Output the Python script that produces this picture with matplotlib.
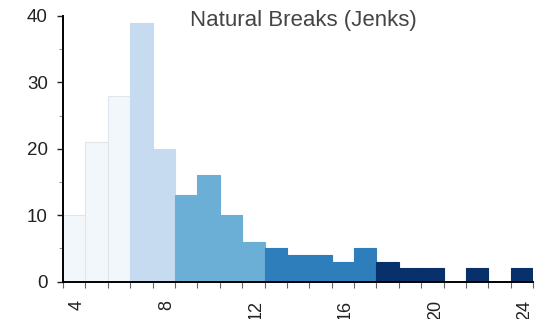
import numpy as np
import matplotlib
matplotlib.use('Agg')
import matplotlib.pyplot as plt

# histogram bins (left edges, width 1) and counts
bin_left = list(range(3, 24))
counts = [10, 21, 28, 39, 20, 13, 16, 10, 6, 5, 4, 4, 3, 5, 3, 2, 2, 0, 2, 0, 2]
# natural-breaks class of every bin
bin_class = [0, 0, 0, 1, 1, 2, 2, 2, 2, 3, 3, 3, 3, 3, 4, 4, 4, 4, 4, 4, 4]
class_colors = ['#f2f7fc', '#c6dbef', '#6baed6', '#2e7ebc', '#08306b']
class_edges = ['#e0e5eb', '#c6dbef', '#6baed6', '#2e7ebc', '#08306b']
x_ticks = [4, 8, 12, 16, 20, 24]
y_ticks = [0, 10, 20, 30, 40]
title = 'Natural Breaks (Jenks)'

plt.rcParams['font.family'] = ['Liberation Sans', 'DejaVu Sans']

fig = plt.figure(figsize=(5.48, 3.19), dpi=100)
ax = fig.add_axes([0.115, 0.117, 0.858, 0.833])

ax.bar(bin_left, counts, width=1, align='edge',
       color=[class_colors[c] for c in bin_class],
       edgecolor=[class_edges[c] for c in bin_class], linewidth=0.8, zorder=2)

ax.set_xlim(3, 24)
ax.set_ylim(0, 40)
for s in ['top', 'right']:
    ax.spines[s].set_visible(False)
ax.spines['left'].set_linewidth(1.4)
ax.spines['bottom'].set_linewidth(1.4)
ax.spines['left'].set_zorder(3)
ax.spines['bottom'].set_zorder(3)

ax.set_xticks(x_ticks)
ax.set_xticks(bin_left + [24], minor=True)
ax.set_yticks(y_ticks)
ax.set_yticks([5, 15, 25, 35], minor=True)
ax.tick_params(axis='x', which='both', length=4, color='#666666', width=0.8,
               labelsize=13, labelcolor='#222222', pad=9)
ax.tick_params(axis='y', which='major', length=4, color='#222222', width=1,
               labelsize=13.5, labelcolor='#222222', pad=7)
ax.tick_params(axis='y', which='minor', length=3, color='#999999', width=0.8)
for lab in ax.get_xticklabels():
    lab.set_rotation(90)
    lab.set_rotation_mode('anchor')
    lab.set_ha('right')
    lab.set_va('bottom')

fig.text(0.553, 0.937, title, ha='center', va='center', fontsize=16, color='#444444')

fig.savefig('out.png', dpi=100)
